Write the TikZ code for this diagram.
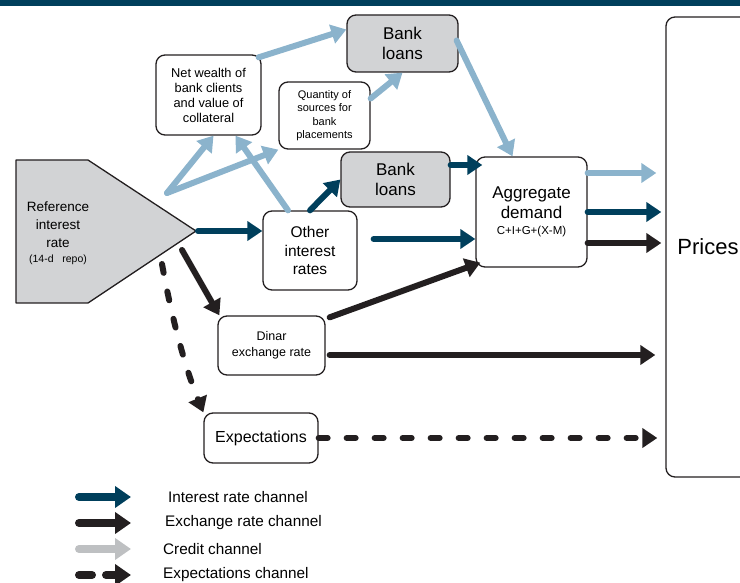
\documentclass[tikz,border=0pt]{standalone}
\usepackage{fontspec}
\setmainfont{Liberation Sans}
\usetikzlibrary{arrows.meta}
\definecolor{darkblue}{RGB}{0,63,92}
\definecolor{lightblue}{RGB}{139,179,204}
\definecolor{ink}{RGB}{35,31,32}
\definecolor{boxgray}{RGB}{210,211,213}
\definecolor{leggray}{RGB}{190,192,194}
\newcommand{\fs}[2]{\fontsize{#1}{#2}\selectfont}
\begin{document}
\begin{tikzpicture}[x=1pt, y=-1pt, line join=round,
    box/.style={draw=ink, rounded corners=9pt, line width=1.3pt, align=center, inner sep=2pt},
    graybox/.style={box, fill=boxgray},
    chan/.style={line width=6pt, line cap=round, -{Triangle[length=15pt,width=19pt]}},
    credit/.style={chan, lightblue},
    inter/.style={chan, darkblue},
    exch/.style={chan, ink},
    expec/.style={exch, dash pattern=on 9pt off 19pt},
    legarrow/.style={line width=8pt, line cap=round, -{Triangle[length=16pt,width=21pt]}},
    legtext/.style={anchor=west, inner sep=0pt, font=\fs{15.3}{18}}]
\useasboundingbox (0,0) rectangle (740,583);
\fill[darkblue] (0,0) rectangle (740,6);

% reference rate
\filldraw[fill=boxgray, draw=ink, line width=1.3pt] (16,160) -- (88,160) -- (196,231) -- (88,303) -- (16,303) -- cycle;
\node[align=center, font=\fs{13.5}{18}] (reftext) at (58,233) {Reference\\interest\\rate\\[-3pt]{\fs{10.5}{14}(14-d~~~repo)}};
\coordinate (reftip) at (198,231);
\coordinate (vbase) at (167,193);
\coordinate (rb) at (182,250);
\coordinate (rd) at (162,264);

% boxes
\node[box, minimum width=105, minimum height=80, font=\fs{12.8}{15}] (netw) at (208.5,95) {Net wealth of\\bank clients\\and value of\\collateral};
\node[box, minimum width=91, minimum height=67, font=\fs{11}{13.5}] (quant) at (324.5,115.5) {Quantity of\\sources for\\bank\\placements};
\node[graybox, minimum width=111, minimum height=57, font=\fs{17}{20}] (loansA) at (402.5,43.5) {Bank\\loans};
\node[graybox, minimum width=109, minimum height=55, font=\fs{17}{20}] (loansB) at (395.5,179.5) {Bank\\loans};
\node[box, minimum width=94, minimum height=79, font=\fs{15.5}{18.5}] (other) at (310,250.5) {Other\\interest\\rates};
\node[box, minimum width=111, minimum height=110, font=\fs{17}{20}] (aggr) at (531.5,212) {Aggregate\\demand\\[-4pt]{\fs{11.5}{13}C+I+G+(X-M)}};
\node[box, minimum width=84, minimum height=460, font=\fs{22}{26}] (prices) at (708,247) {Prices};
\node[box, minimum width=107, minimum height=59, font=\fs{12.5}{16}] (dinar) at (271.5,345.5) {Dinar\\exchange rate};
\node[box, minimum width=114, minimum height=50, font=\fs{16}{18}] (expect) at (261,438) {Expectations};

% credit channel
\draw[credit] (vbase) -- ([xshift=5pt]netw.south);
\draw[credit] (vbase) -- (quant.south west);
\draw[credit] ([xshift=-22pt]other.north) -- ([xshift=27pt]netw.south);
\draw[credit] ([xshift=-3pt,yshift=-3pt]netw.north east) -- ([yshift=14pt]loansA.west);
\draw[credit] ([yshift=17pt]quant.east) -- (loansA.south);
\draw[credit] ([xshift=-2pt,yshift=3pt]loansA.east) -- ([xshift=-19pt]aggr.north);
\draw[credit] ([yshift=39pt]aggr.east) -- ([xshift=-9pt,yshift=74pt]prices.west);

% interest rate channel
\draw[inter] (reftip) -- ([yshift=19.5pt]other.west);
\draw[inter] (other.north) -- (loansB.west);
\draw[inter] ([yshift=14.5pt]loansB.east) -- ([xshift=7pt,yshift=47pt]aggr.west);
\draw[inter] ([xshift=16pt,yshift=11.5pt]other.east) -- ([yshift=-27pt]aggr.west);
\draw[inter] (aggr.east) -- ([xshift=-4pt,yshift=35pt]prices.west);

% exchange rate channel
\draw[exch] (rb) -- ([xshift=2pt]dinar.north west);
\draw[exch] ([xshift=4pt,yshift=-2pt]dinar.north east) -- ([xshift=5pt,yshift=5pt]aggr.south west);
\draw[exch] ([xshift=4pt,yshift=-9.5pt]dinar.east) -- ([xshift=-10pt,yshift=-108pt]prices.west);
\draw[exch] ([yshift=-31pt]aggr.east) -- ([xshift=-4pt,yshift=4pt]prices.west);

% expectations channel
\draw[expec] (rd) .. controls (172,320) and (186,370) .. (expect.north west);
\draw[expec] (expect.east) -- ([xshift=-8pt,yshift=-191pt]prices.west);

% legend
\node[legtext] (leg1) at (168,497) {Interest rate channel};
\node[legtext] (leg2) at (165,523) {Exchange rate channel};
\node[legtext] (leg3) at (163,549) {Credit channel};
\node[legtext] (leg4) at (163,575) {Expectations channel};
\coordinate (l1) at (79,497); \coordinate (r1) at (131,497);
\coordinate (l2) at (79,523); \coordinate (r2) at (131,523);
\coordinate (l3) at (79,549); \coordinate (r3) at (131,549);
\coordinate (l4) at (79,575); \coordinate (r4) at (131,575);
\draw[legarrow, darkblue] (l1) -- (r1);
\draw[legarrow, ink] (l2) -- (r2);
\draw[legarrow, leggray] (l3) -- (r3);
\draw[legarrow, ink, dash pattern=on 13pt off 14pt] (l4) -- (r4);
\end{tikzpicture}
\end{document}
